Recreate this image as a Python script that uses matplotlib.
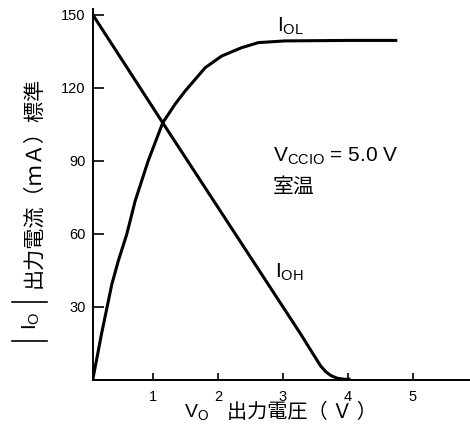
import matplotlib
matplotlib.use("Agg")
import matplotlib.pyplot as plt
from matplotlib.lines import Line2D

plt.rcParams['font.family'] = ['Liberation Sans', 'Noto Sans CJK JP', 'DejaVu Sans']
plt.rcParams['mathtext.fontset'] = 'custom'
plt.rcParams['mathtext.rm'] = 'Liberation Sans'
plt.rcParams['mathtext.it'] = 'Liberation Sans:italic'
plt.rcParams['mathtext.bf'] = 'Liberation Sans:bold'

# ---- data ----
iol_v = [0.065, 0.2, 0.36, 0.46, 0.59, 0.72, 0.92, 1.145, 1.335, 1.49, 1.8,
         2.055, 2.36, 2.62, 3.03, 3.5, 4.0, 4.74]
iol_i = [0, 18.8, 39.3, 48.9, 59.8, 73.5, 89.9, 105.6, 113.2, 118.6, 128.2,
         133.0, 136.4, 138.5, 139.2, 139.3, 139.4, 139.4]
ioh_v = [0.065, 1.145, 3.26, 3.58, 3.66, 3.74, 3.84, 3.95, 4.02]
ioh_i = [150, 105.6, 19.4, 5.8, 3.4, 1.8, 0.7, 0.3, 0.3]

x_ticks = [1, 2, 3, 4, 5]
y_ticks = [30, 60, 90, 120, 150]

W, H = 470, 446
fig = plt.figure(figsize=(W / 100, H / 100), dpi=100)

def fx(px):
    return px / W

def fy(py):
    return 1 - py / H

ax = fig.add_axes([fx(92.7), fy(380), 1 - fx(92.7), (380 - 9) / H])
ax.plot(iol_v, iol_i, color='black', lw=2.2, solid_joinstyle='round')
ax.plot(ioh_v, ioh_i, color='black', lw=2.2, solid_joinstyle='round')
ax.set_xlim(0.065, 5.885)
ax.set_ylim(0, 152.3)
for s in ['top', 'right']:
    ax.spines[s].set_visible(False)
for s in ['left', 'bottom']:
    ax.spines[s].set_linewidth(1.4)
ax.set_xticks(x_ticks)
ax.set_xticklabels([str(t) for t in x_ticks])
ax.set_yticks(y_ticks)
ax.set_yticklabels([str(t) for t in y_ticks])
ax.tick_params(axis='x', direction='in', length=5, width=1.2, pad=7, labelsize=10.5)
ax.tick_params(axis='y', direction='in', length=8, width=1.2, pad=5, labelsize=10.5)

fs = 15
# annotations
fig.text(fx(277), fy(32), r'I$_\mathrm{OL}$', fontsize=fs, ha='left', va='baseline')
fig.text(fx(275), fy(278), r'I$_\mathrm{OH}$', fontsize=fs, ha='left', va='baseline')
fig.text(fx(273), fy(162), r'V$_\mathrm{CCIO}$ = 5.0 V', fontsize=fs, ha='left', va='baseline')
fig.text(fx(273), fy(186.5), '室温', fontsize=fs, ha='left', va='center',
         family=['Noto Sans CJK JP'])

# x label
fig.text(fx(184), fy(417), r'V$_\mathrm{O}$', fontsize=14, ha='left', va='baseline')
fig.text(fx(227), fy(413), '出力電圧（ Ｖ ）', fontsize=14.5, ha='left', va='center',
         family=['Noto Sans CJK JP'])

# y label
fig.text(fx(33), fy(182), '出力電流（ｍＡ）標準', fontsize=15.2, rotation=90,
         ha='center', va='center', family=['Noto Sans CJK JP'])
fig.text(fx(31), fy(321), r'I$_\mathrm{O}$', fontsize=fs, rotation=90,
         ha='center', va='center')
for yy in (301.7, 340.7):
    fig.add_artist(Line2D([fx(11.7), fx(46.7)], [fy(yy), fy(yy)], color='black',
                          lw=1.2, transform=fig.transFigure))

fig.savefig('out.png', dpi=100)
